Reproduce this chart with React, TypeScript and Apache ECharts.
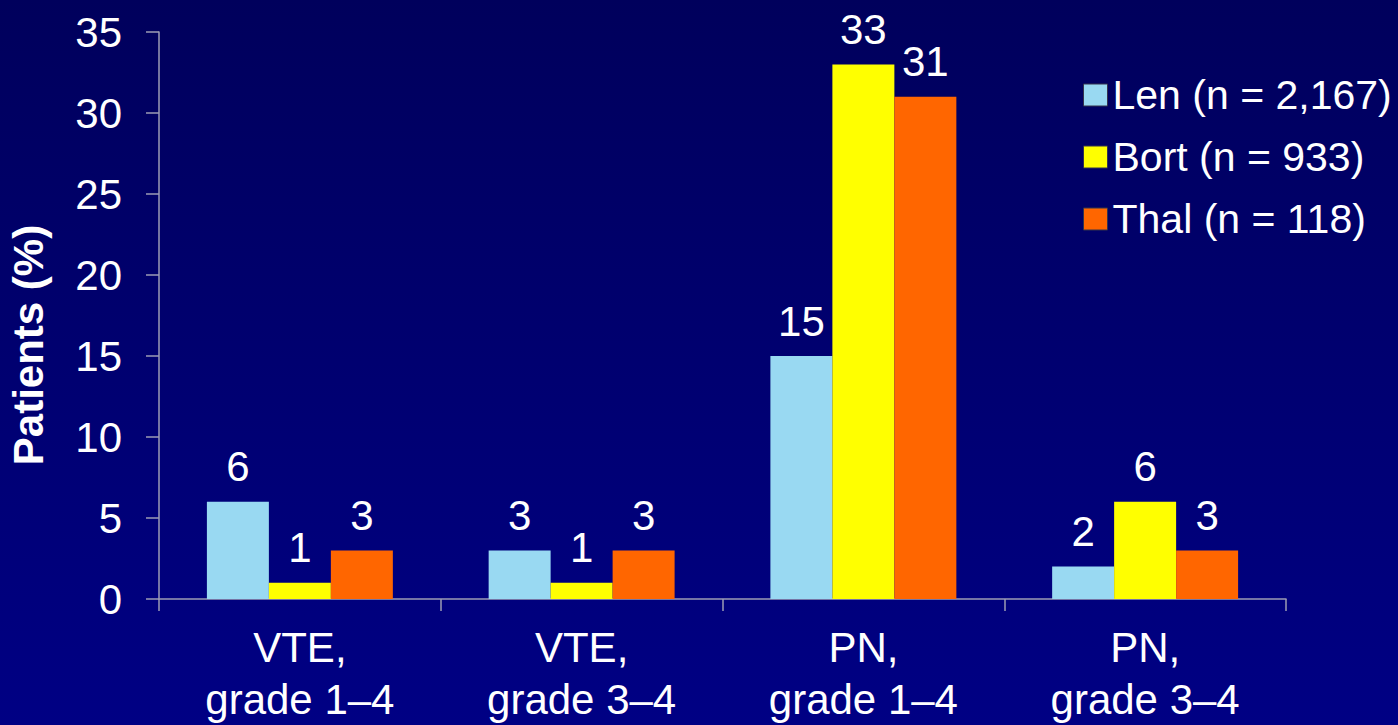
import React, { useEffect, useRef } from "react";
import * as echarts from "echarts";

const categories = ["VTE,\ngrade 1–4", "VTE,\ngrade 3–4", "PN,\ngrade 1–4", "PN,\ngrade 3–4"];
const seriesNames = ["Len (n = 2,167)", "Bort (n = 933)", "Thal (n = 118)"];
const lenValues = [6, 3, 15, 2];
const bortValues = [1, 1, 33, 6];
const thalValues = [3, 3, 31, 3];
const seriesColors = ["#99d9f2", "#ffff00", "#ff6600"];
const yTicks = [0, 5, 10, 15, 20, 25, 30, 35];

const FONT = "'Liberation Sans', Arial, sans-serif";
const AXIS_COLOR = "#9c9cb4";
const FS = 42;

export default function App() {
  const ref = useRef<HTMLDivElement>(null);

  useEffect(() => {
    if (!ref.current) return;
    const chart = echarts.init(ref.current, undefined, { renderer: "svg" });
    const values = [lenValues, bortValues, thalValues];
    chart.setOption({
      animation: false,
      backgroundColor: {
        type: "linear",
        x: 0,
        y: 0,
        x2: 0,
        y2: 1,
        colorStops: [
          { offset: 0, color: "#00005c" },
          { offset: 1, color: "#000084" },
        ],
      },
      textStyle: { fontFamily: FONT },
      grid: { left: 159, right: 112, top: 32, bottom: 123 },
      legend: {
        orient: "vertical",
        left: 1078,
        top: 69,
        itemWidth: 24,
        itemHeight: 22,
        itemGap: 20,
        icon: "rect",
        textStyle: {
          color: "#ffffff",
          fontSize: 41,
          lineHeight: 42,
          fontFamily: FONT,
        },
        itemStyle: { borderColor: "#33334d", borderWidth: 1 },
        data: seriesNames,
      },
      graphic: [
        {
          type: "text",
          x: 28,
          y: 345,
          rotation: Math.PI / 2,
          style: {
            text: "Patients (%)",
            fill: "#ffffff",
            font: `bold ${FS}px ${FONT}`,
            textAlign: "center",
            textVerticalAlign: "middle",
          },
        },
      ],
      xAxis: {
        type: "category",
        data: categories,
        axisLine: { lineStyle: { color: AXIS_COLOR, width: 1.5 } },
        axisTick: { show: true, length: 12, lineStyle: { color: AXIS_COLOR, width: 1.5 } },
        axisLabel: {
          color: "#ffffff",
          fontSize: FS,
          fontFamily: FONT,
          lineHeight: 52,
          margin: 22,
          interval: 0,
        },
      },
      yAxis: {
        type: "value",
        min: 0,
        max: 35,
        interval: 5,
        splitLine: { show: false },
        axisLine: { show: true, lineStyle: { color: AXIS_COLOR, width: 1.5 } },
        axisTick: { show: true, length: 13, lineStyle: { color: AXIS_COLOR, width: 1.5 } },
        axisLabel: {
          color: "#ffffff",
          fontSize: FS,
          fontFamily: FONT,
          margin: 37,
          formatter: (v: number) => (yTicks.includes(v) ? String(v) : ""),
        },
      },
      series: seriesNames.map((name, i) => ({
        name,
        type: "bar",
        data: values[i],
        barGap: "0%",
        barCategoryGap: "34%",
        itemStyle: { color: seriesColors[i] },
        label: {
          show: true,
          position: "top",
          distance: 14,
          color: "#ffffff",
          fontSize: FS,
          fontFamily: FONT,
        },
      })),
    });
    return () => chart.dispose();
  }, []);

  return (
    <div
      ref={ref}
      style={{ position: "absolute", left: 0, top: 0, width: 1398, height: 725 }}
    />
  );
}
